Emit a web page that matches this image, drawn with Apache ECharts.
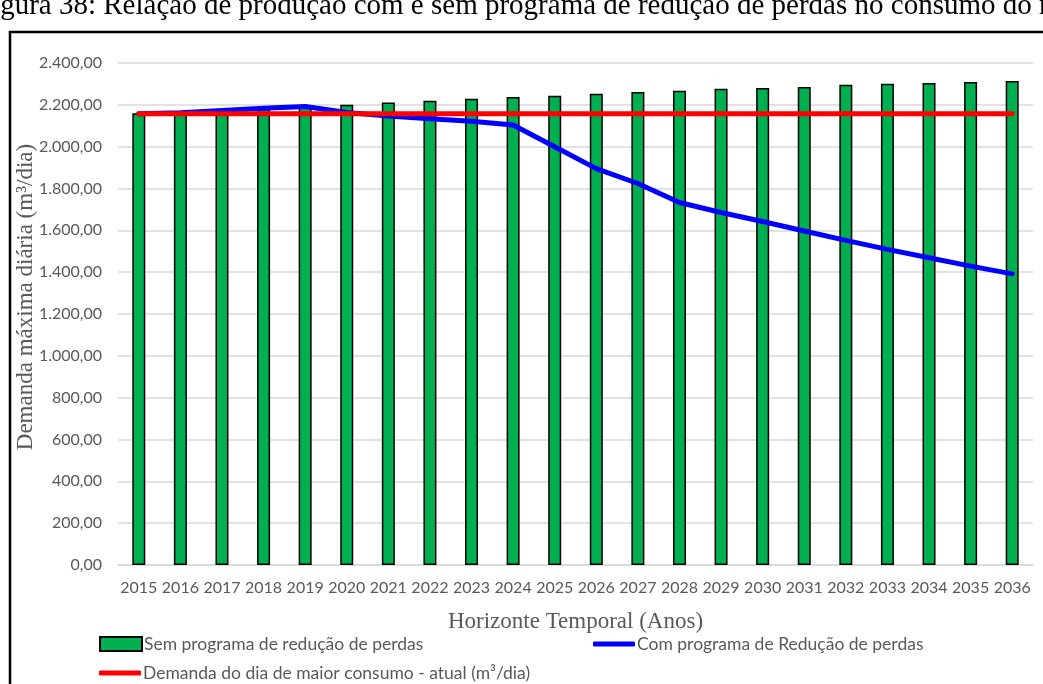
<!DOCTYPE html>
<html>
<head>
<meta charset="utf-8">
<script src="https://cdn.jsdelivr.net/npm/echarts@6/dist/echarts.min.js"></script>
<style>
  html, body { margin: 0; padding: 0; background: #fff; }
  #chart { width: 1043px; height: 684px; }
</style>
</head>
<body>
<div id="chart"></div>
<script>
// anos do horizonte de projeto
var anos = ['2015', '2016', '2017', '2018', '2019', '2020', '2021', '2022', '2023', '2024', '2025',
  '2026', '2027', '2028', '2029', '2030', '2031', '2032', '2033', '2034', '2035', '2036']

// demanda sem programa de redução de perdas (m³/dia)
var semPrograma = [2160, 2165, 2173, 2181, 2190, 2200, 2211, 2219, 2229, 2237, 2243,
  2253, 2261, 2267, 2277, 2280, 2285, 2296, 2301, 2304, 2309, 2314]

// demanda com programa de redução de perdas (m³/dia)
var comPrograma = [2157, 2162, 2173, 2184, 2192, 2163, 2147, 2134, 2122, 2104, 2000,
  1895, 1824, 1733, 1685, 1642, 1597, 1552, 1509, 1469, 1429, 1392]

// demanda do dia de maior consumo atual (m³/dia)
var demandaAtual = anos.map(function () { return 2157 })

var nomeSem = 'Sem programa de redução de perdas'
var nomeCom = 'Com programa de Redução de perdas'
var nomeAtual = 'Demanda do dia de maior consumo - atual (m³/dia)'

var cinza = '#595959'
var fonteRotulo = 'Lato'
var fonteTitulo = '"Liberation Serif", "Times New Roman", serif'

// 2400 -> "2.400,00"
function formatoBR(v) {
  var inteiro = Math.round(v).toString().replace(/\B(?=(\d{3})+(?!\d))/g, '.')
  return inteiro + ',00'
}

var chart = echarts.init(document.getElementById('chart'), null, { renderer: 'canvas' })

chart.setOption({
  backgroundColor: '#ffffff',
  animation: false,
  graphic: [
    // legenda da figura, cortada no topo da imagem
    {
      type: 'text',
      left: -24,
      top: -8,
      style: {
        text: 'Figura 38: Relação de produção com e sem programa de redução de perdas no consumo do município',
        font: '29px ' + fonteTitulo,
        fill: '#000'
      }
    },
    // moldura
    {
      type: 'rect',
      shape: { x: 10, y: 32, width: 1100, height: 700 },
      style: { fill: 'none', stroke: '#000', lineWidth: 2.5 }
    },
    // título do eixo y
    {
      type: 'text',
      x: 26,
      y: 297,
      rotation: Math.PI / 2,
      style: {
        text: 'Demanda máxima diária (m³/dia)',
        font: '23px ' + fonteTitulo,
        fill: cinza,
        align: 'center',
        verticalAlign: 'middle'
      }
    }
  ],
  grid: {
    left: 118,
    right: 10,
    top: 63,
    bottom: 119
  },
  legend: [
    {
      left: 94,
      top: 630,
      itemWidth: 42,
      itemHeight: 14,
      icon: 'rect',
      data: [nomeSem],
      textStyle: { fontFamily: fonteRotulo, fontSize: 17.5, color: cinza, padding: [0, 0, 0, -3] }
    },
    {
      left: 588,
      top: 630,
      itemWidth: 42,
      itemHeight: 5,
      icon: 'roundRect',
      data: [nomeCom],
      textStyle: { fontFamily: fonteRotulo, fontSize: 17.5, color: cinza, padding: [0, 0, 0, -3] }
    },
    {
      left: 94,
      top: 659,
      itemWidth: 42,
      itemHeight: 5,
      icon: 'roundRect',
      data: [nomeAtual],
      textStyle: { fontFamily: fonteRotulo, fontSize: 17.5, color: cinza, padding: [0, 0, 0, -3] }
    }
  ],
  xAxis: {
    type: 'category',
    data: anos,
    name: 'Horizonte Temporal (Anos)',
    nameLocation: 'middle',
    nameGap: 45,
    nameTextStyle: { fontFamily: fonteTitulo, fontSize: 23, color: cinza },
    axisLine: { lineStyle: { color: '#d9d9d9', width: 1.5 } },
    axisTick: { show: false },
    axisLabel: { fontFamily: fonteRotulo, fontSize: 16, color: cinza, margin: 15, interval: 0 }
  },
  yAxis: {
    type: 'value',
    min: 0,
    max: 2400,
    interval: 200,
    axisLine: { show: false },
    axisTick: { show: false },
    axisLabel: { fontFamily: fonteRotulo, fontSize: 16, color: cinza, margin: 16, formatter: formatoBR },
    splitLine: { lineStyle: { color: '#d9d9d9', width: 1.5 } }
  },
  series: [
    {
      name: nomeSem,
      type: 'bar',
      data: semPrograma,
      barWidth: 13,
      itemStyle: { color: '#00b050', borderColor: '#000', borderWidth: 1.5 }
    },
    {
      name: nomeCom,
      type: 'line',
      data: comPrograma,
      symbol: 'none',
      lineStyle: { color: '#0000ff', width: 5, cap: 'round', join: 'round' },
      itemStyle: { color: '#0000ff' }
    },
    {
      name: nomeAtual,
      type: 'line',
      data: demandaAtual,
      symbol: 'none',
      lineStyle: { color: '#ff0000', width: 5, cap: 'round', join: 'round' },
      itemStyle: { color: '#ff0000' }
    }
  ]
})
</script>
</body>
</html>
